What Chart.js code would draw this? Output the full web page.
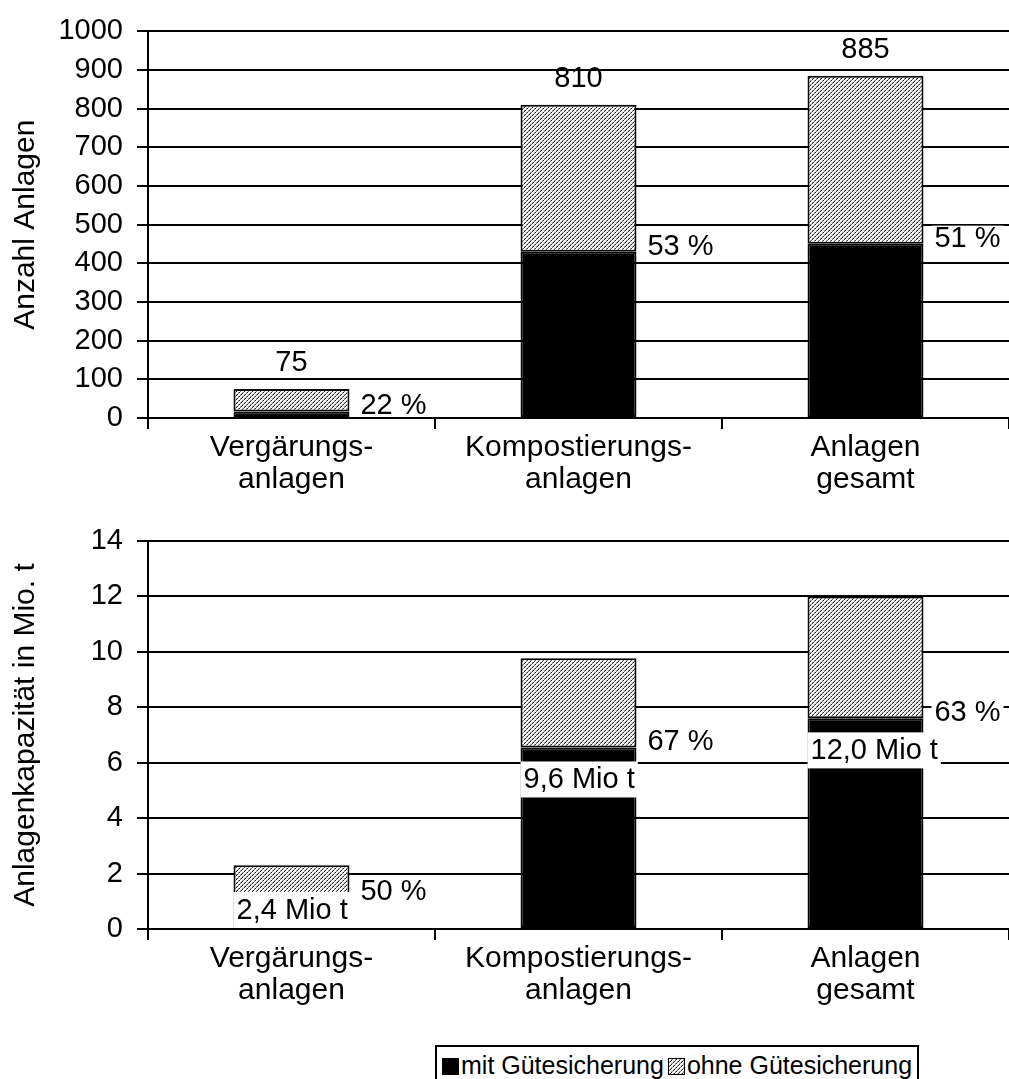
<!DOCTYPE html>
<html lang="de">
<head>
  <meta charset="UTF-8" />
  <title>Anlagen mit und ohne Gütesicherung</title>
  <script src="https://cdn.jsdelivr.net/npm/chart.js"></script>
  <style>
    body {
      margin: 0;
      background: #fff;
      width: 1009px;
      height: 1079px;
      overflow: hidden;
      position: relative;
      font-family: "Liberation Sans", Arial, sans-serif;
      color: #000;
    }
    .chartBox { position: absolute; left: 0; width: 1009px; }
    #topBox { top: 0; height: 500px; }
    #bottomBox { top: 500px; height: 540px; }
    #legend {
      position: absolute;
      left: 435px;
      top: 1045px;
      width: 484px;
      height: 60px;
      border: 2px solid #000;
      box-sizing: border-box;
      font-size: 25px;
      line-height: 30px;
      white-space: nowrap;
      padding: 3px 0 0 5px;
    }
    .swatch {
      display: inline-block;
      width: 15px;
      height: 15px;
      border: 1px solid #000;
      vertical-align: -1px;
      margin-right: 2px;
    }
    .gap { margin-left: 4px; }
    .mit { background: #000; }
  </style>
</head>
<body>
  <div class="chartBox" id="topBox"><canvas id="anzahlChart"></canvas></div>
  <div class="chartBox" id="bottomBox"><canvas id="kapChart"></canvas></div>
  <div id="legend"><span class="swatch mit"></span>mit Gütesicherung<span class="swatch gap" id="ohneSwatch"></span>ohne Gütesicherung</div>

  <script>
    // Daten
    const categories = [['Vergärungs-', 'anlagen'], ['Kompostierungs-', 'anlagen'], ['Anlagen', 'gesamt']];

    const anzahlMit = [17, 430, 451];
    const anzahlOhne = [58, 380, 434];
    const anzahlSumme = ['75', '810', '885'];
    const anzahlAnteil = ['22 %', '53 %', '51 %'];

    const kapMit = [1.15, 6.55, 7.6];
    const kapOhne = [1.15, 3.22, 4.4];
    const kapAnteil = ['50 %', '67 %', '63 %'];
    const kapMenge = ['2,4 Mio t', '9,6 Mio t', '12,0 Mio t'];

    const FONT = '"Liberation Sans", Arial, sans-serif';
    Chart.defaults.font.family = FONT;
    Chart.defaults.font.size = 29;
    Chart.defaults.color = '#000';

    // Schraffur fuer "ohne Guetesicherung"
    function makeHatchCanvas() {
      const c = document.createElement('canvas');
      c.width = 8; c.height = 8;
      const g = c.getContext('2d');
      for (let x = 0; x < 8; x++) {
        for (let y = 0; y < 8; y++) {
          const d = (x + y) % 4;
          let col = '#ffffff';
          if (d === 3) col = (x % 3 === 0) ? '#7a7a7a' : '#222222';
          else if (d === 2) col = (y % 2 === 0) ? '#a8a8a8' : '#e6e6e6';
          g.fillStyle = col;
          g.fillRect(x, y, 1, 1);
        }
      }
      return c;
    }
    const hatchCanvas = makeHatchCanvas();
    const hatch = document.createElement('canvas').getContext('2d').createPattern(hatchCanvas, 'repeat');
    document.getElementById('ohneSwatch').style.backgroundImage = `url(${hatchCanvas.toDataURL()})`;

    const barLabels = {
      id: 'barLabels',
      afterDatasetsDraw(chart, args, opts) {
        const ctx = chart.ctx;
        const base = chart.scales.y.getPixelForValue(0);
        const mitMeta = chart.getDatasetMeta(0);
        const ohneMeta = chart.getDatasetMeta(1);
        ctx.save();
        ctx.font = `29px ${FONT}`;
        ctx.fillStyle = '#000';
        ctx.textBaseline = 'middle';
        mitMeta.data.forEach((bar, i) => {
          const half = bar.width / 2;
          const left = bar.x - half, right = bar.x + half;
          const mitTop = bar.y;

          if (opts.summe) {
            ctx.textAlign = 'center';
            ctx.fillText(opts.summe[i], bar.x, ohneMeta.data[i].y - 26);
          }

          if (opts.anteil) {
            const t = opts.anteil[i];
            const tw = ctx.measureText(t).width;
            const cy = mitTop - 6;
            const boxBottom = Math.min(cy + 13, base - 2);
            ctx.fillStyle = '#fff';
            ctx.fillRect(right + 8, cy - 12, tw + 6, boxBottom - (cy - 12));
            ctx.fillStyle = '#000';
            ctx.textAlign = 'left';
            ctx.fillText(t, right + 11, cy + 1);
          }

          if (opts.menge) {
            const t = opts.menge[i];
            const tw = ctx.measureText(t).width;
            const h = 36;
            const top = Math.min(mitTop + 14, base - h - 1);
            const w = Math.max(bar.width, tw + 6);
            ctx.fillStyle = '#fff';
            ctx.fillRect(left, top, w, h);
            ctx.fillStyle = '#000';
            ctx.textAlign = 'left';
            ctx.fillText(t, left + 3, top + h / 2 + 1);
          }
        });
        ctx.restore();
      }
    };

    function datasets(mit, ohne) {
      const common = {
        borderColor: '#000',
        borderWidth: 2,
        borderSkipped: false,
        barPercentage: 0.404,
        categoryPercentage: 1
      };
      return [
        { label: 'mit Gütesicherung', data: mit, backgroundColor: '#000', ...common },
        { label: 'ohne Gütesicherung', data: ohne, backgroundColor: hatch, ...common }
      ];
    }

    function scales(max, step, title, xHeight) {
      return {
        x: {
          stacked: true,
          offset: true,
          grid: { offset: true, drawOnChartArea: false, color: '#000', lineWidth: 2, tickLength: 11 },
          border: { display: true, color: '#000', width: 2 },
          ticks: { color: '#000', padding: 3, maxRotation: 0, autoSkip: false, font: { size: 30, lineHeight: 1.07 } },
          afterFit(s) { s.height = xHeight; }
        },
        y: {
          stacked: true,
          min: 0,
          max: max,
          ticks: {
            stepSize: step,
            color: '#000',
            padding: 14,
            font: { size: 29 },
            callback: v => String(v)
          },
          grid: { color: '#000', lineWidth: 2, tickLength: 11 },
          border: { display: true, color: '#000', width: 2 },
          title: { display: true, text: title, color: '#000', font: { size: 30 }, padding: { top: 8, bottom: 0 } },
          afterFit(s) { s.width = 148; }
        }
      };
    }

    function makeChart(id, mit, ohne, max, step, title, padTop, xHeight, labelOpts) {
      return new Chart(document.getElementById(id), {
        type: 'bar',
        data: { labels: categories, datasets: datasets(mit, ohne) },
        options: {
          responsive: true,
          maintainAspectRatio: false,
          animation: false,
          devicePixelRatio: 1,
          layout: { padding: { top: padTop, left: 0, right: 0, bottom: 0 } },
          scales: scales(max, step, title, xHeight),
          plugins: {
            legend: { display: false },
            tooltip: { enabled: false },
            barLabels: labelOpts
          }
        },
        plugins: [barLabels]
      });
    }

    makeChart('anzahlChart', anzahlMit, anzahlOhne, 1000, 100, 'Anzahl Anlagen', 23, 82,
      { summe: anzahlSumme, anteil: anzahlAnteil });
    makeChart('kapChart', kapMit, kapOhne, 14, 2, 'Anlagenkapazität in Mio. t', 41, 111,
      { anteil: kapAnteil, menge: kapMenge });
  </script>
</body>
</html>
